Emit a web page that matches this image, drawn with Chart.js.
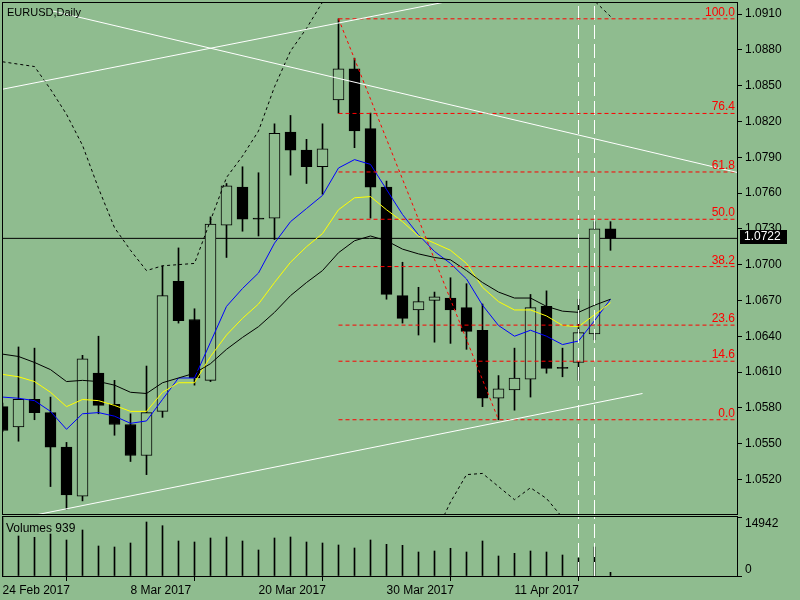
<!DOCTYPE html>
<html>
<head>
<meta charset="utf-8">
<title>EURUSD,Daily</title>
<script src="https://cdn.jsdelivr.net/npm/chart.js@4.4.1/dist/chart.umd.min.js"></script>
<style>
  html, body { margin: 0; padding: 0; background: #8fbc8f; }
  #wrap { position: relative; width: 800px; height: 600px; overflow: hidden; }
  #priceBox { position: absolute; left: 0; top: 0; width: 800px; height: 516px; }
  #volBox { position: absolute; left: 0; top: 514px; width: 800px; height: 86px; }
</style>
</head>
<body>
<div id="wrap">
  <div id="priceBox"><canvas id="priceChart" width="800" height="516"></canvas></div>
  <div id="volBox"><canvas id="volChart" width="800" height="86"></canvas></div>
</div>
<script>
const BG = '#8fbc8f';
const FONT = '"Liberation Sans", Arial, sans-serif';

// Daily bars, 24 Feb 2017 .. 19 Apr 2017
const dates = ['24 Feb 2017', '27 Feb 2017', '28 Feb 2017', '1 Mar 2017', '2 Mar 2017', '3 Mar 2017',
  '6 Mar 2017', '7 Mar 2017', '8 Mar 2017', '9 Mar 2017', '10 Mar 2017', '13 Mar 2017', '14 Mar 2017',
  '15 Mar 2017', '16 Mar 2017', '17 Mar 2017', '20 Mar 2017', '21 Mar 2017', '22 Mar 2017', '23 Mar 2017',
  '24 Mar 2017', '27 Mar 2017', '28 Mar 2017', '29 Mar 2017', '30 Mar 2017', '31 Mar 2017', '3 Apr 2017',
  '4 Apr 2017', '5 Apr 2017', '6 Apr 2017', '7 Apr 2017', '10 Apr 2017', '11 Apr 2017', '12 Apr 2017',
  '13 Apr 2017', '14 Apr 2017', '17 Apr 2017', '18 Apr 2017', '19 Apr 2017'];

const openP = [1.0581, 1.0564, 1.0587, 1.0576, 1.0547, 1.0506, 1.0609, 1.0583, 1.0566, 1.0540,
  1.0577, 1.0686, 1.0654, 1.0603, 1.0733, 1.0765, 1.0739, 1.0739, 1.0811, 1.0796,
  1.0782, 1.0838, 1.0864, 1.0814, 1.0765, 1.0674, 1.0662, 1.0670, 1.0672, 1.0664,
  1.0645, 1.0588, 1.0595, 1.0604, 1.0665, 1.0614, 1.0618, 1.0642, 1.0730];
const highP = [1.0584, 1.0631, 1.0630, 1.0589, 1.0551, 1.0624, 1.0640, 1.0603, 1.0575, 1.0615,
  1.0699, 1.0714, 1.0663, 1.0740, 1.0768, 1.0782, 1.0777, 1.0818, 1.0825, 1.0805,
  1.0818, 1.0906, 1.0873, 1.0827, 1.0770, 1.0702, 1.0681, 1.0677, 1.0689, 1.0684,
  1.0667, 1.0607, 1.0630, 1.0675, 1.0678, 1.0630, 1.0671, 1.0736, 1.0736];
const lowP = [1.0560, 1.0552, 1.0570, 1.0514, 1.0495, 1.0502, 1.0575, 1.0557, 1.0535, 1.0524,
  1.0572, 1.0651, 1.0599, 1.0602, 1.0706, 1.0728, 1.0724, 1.0721, 1.0775, 1.0768,
  1.0759, 1.0827, 1.0798, 1.0739, 1.0671, 1.0651, 1.0641, 1.0635, 1.0634, 1.0629,
  1.0581, 1.0570, 1.0578, 1.0589, 1.0609, 1.0606, 1.0603, 1.0637, 1.0712];
const closeP = [1.0561, 1.0587, 1.0576, 1.0547, 1.0507, 1.0621, 1.0582, 1.0566, 1.0540, 1.0576,
  1.0674, 1.0653, 1.0605, 1.0734, 1.0766, 1.0738, 1.0738, 1.0810, 1.0796, 1.0782,
  1.0797, 1.0864, 1.0812, 1.0765, 1.0675, 1.0655, 1.0669, 1.0673, 1.0662, 1.0644,
  1.0588, 1.0596, 1.0605, 1.0664, 1.0613, 1.0613, 1.0643, 1.0730, 1.0722];

// moving averages (fast blue, middle yellow, slow black)
const maBlue = [1.0589, 1.0588, 1.0586, 1.0577, 1.0562, 1.0575, 1.0576, 1.0573, 1.0567, 1.0569,
  1.0587, 1.0605, 1.0605, 1.0635, 1.0665, 1.0680, 1.0693, 1.0718, 1.0736, 1.0747,
  1.0758, 1.0781, 1.0788, 1.0784, 1.0763, 1.0742, 1.0725, 1.0711, 1.0701, 1.0688,
  1.0666, 1.0649, 1.0640, 1.0645, 1.0640, 1.0633, 1.0636, 1.0653, 1.0671];
const maYellow = [1.0608, 1.0606, 1.0602, 1.0593, 1.0581, 1.0587, 1.0586, 1.0582, 1.0577, 1.0577,
  1.0593, 1.0601, 1.0601, 1.0623, 1.0641, 1.0655, 1.0667, 1.0685, 1.0702, 1.0715,
  1.0726, 1.0746, 1.0756, 1.0757, 1.0746, 1.0736, 1.0724, 1.0718, 1.0712, 1.0701,
  1.0681, 1.0669, 1.0662, 1.0662, 1.0657, 1.0649, 1.0648, 1.0658, 1.0668];
const maBlack = [1.0625, 1.0623, 1.0618, 1.0612, 1.0602, 1.0603, 1.0602, 1.0599, 1.0593, 1.0592,
  1.0601, 1.0605, 1.0609, 1.0617, 1.0629, 1.0639, 1.0648, 1.0660, 1.0674, 1.0685,
  1.0695, 1.0710, 1.0720, 1.0724, 1.0720, 1.0713, 1.0709, 1.0706, 1.0704, 1.0695,
  1.0685, 1.0677, 1.0672, 1.0672, 1.0665, 1.0661, 1.0660, 1.0666, 1.0671];

// band lines (dotted black), partly outside the visible range
const bandUpper = [1.0870, 1.0868, 1.0866, 1.0847, 1.0826, 1.0800, 1.0764, 1.0731, 1.0712, 1.0695,
  1.0699, 1.0700, 1.0701, 1.0737, 1.0773, 1.0791, 1.0812, 1.0849, 1.0879, 1.0898,
  1.0920, 1.0943, 1.0959, 1.0968, 1.0972, 1.0974, 1.0972, 1.0968, 1.0964, 1.0959,
  1.0955, 1.0951, 1.0947, 1.0945, 1.0942, 1.0940, 1.0934, 1.0921, 1.0908];
const bandLower = [1.0385, 1.0385, 1.0381, 1.0377, 1.0369, 1.0377, 1.0394, 1.0411, 1.0419, 1.0427,
  1.0432, 1.0432, 1.0432, 1.0419, 1.0402, 1.0394, 1.0385, 1.0377, 1.0369, 1.0365,
  1.0360, 1.0360, 1.0369, 1.0385, 1.0411, 1.0427, 1.0444, 1.0473, 1.0501, 1.0524,
  1.0525, 1.0514, 1.0503, 1.0513, 1.0504, 1.0488, 1.0473, 1.0465, 1.0452];

const volumes = [14942, 10252, 9919, 10765, 9227, 11790, 7689, 7433, 8458, 13840,
  12892, 8971, 8714, 9739, 9996, 8971, 6664, 9739, 9996, 8714,
  8458, 7945, 7176, 9227, 8125, 7868, 6151, 6408, 7100, 6151,
  8971, 5126, 5818, 6408, 6151, 5382, 4613, 7433, 939];

const priceTicks = [1.0520, 1.0550, 1.0580, 1.0610, 1.0640, 1.0670, 1.0700,
  1.0730, 1.0760, 1.0790, 1.0820, 1.0850, 1.0880, 1.0910];
const dateTicks = [0, 8, 16, 24, 32];
const volumeTicks = [0, 14942];

// Fibonacci retracement from the 27 Mar high to the 10 Apr low
const fibLevels = [0, 14.6, 23.6, 38.2, 50, 61.8, 76.4, 100];
const fibFrom = 21;
const fibTo = 31;

// hand drawn trend lines: [bar index, price]
const trendUp = [[0, 1.0847], [28, 1.0921]];
const trendLow = [[2, 1.0490], [40, 1.0592]];
const trendDown = [[3.16, 1.09125], [46, 1.0777]];
const vLines = [36, 37];

const lastPrice = closeP[closeP.length - 1];
const X_MIN = -0.03125, X_MAX = 45.90625;
const Y_MIN = 1.04910, Y_MAX = 1.09201;
const VOL_MAX = 15378;

const fibPrice = l => lowP[fibTo] + (highP[fibFrom] - lowP[fibTo]) * l / 100;
const pts = arr => arr.map((v, i) => ({ x: i, y: v }));
const seg = arr => arr.map(p => ({ x: p[0], y: p[1] }));
const lineDs = (data, color, extra) => Object.assign({
  type: 'line', data, borderColor: color, borderWidth: 1, pointRadius: 0,
  fill: false, tension: 0, order: 0
}, extra || {});

const bull = closeP.map((c, i) => c > openP[i]);

// plain black frame round the plot area
const frame = {
  id: 'frame',
  afterDraw(chart) {
    const { ctx, chartArea: a } = chart;
    ctx.save();
    ctx.strokeStyle = '#000';
    ctx.lineWidth = 1;
    ctx.strokeRect(a.left + 0.5, a.top + 0.5, a.right - a.left, a.bottom - a.top);
    ctx.restore();
  }
};

const priceExtras = {
  id: 'priceExtras',
  afterDraw(chart) {
    const { ctx, chartArea: a, scales: { y } } = chart;
    ctx.save();
    ctx.fillStyle = '#000';
    ctx.font = '11px ' + FONT;
    ctx.textBaseline = 'alphabetic';
    ctx.fillText('EURUSD,Daily', 7, 16);

    ctx.font = '12px ' + FONT;
    ctx.fillStyle = '#ff0000';
    ctx.textAlign = 'right';
    fibLevels.forEach(l => {
      const py = y.getPixelForValue(fibPrice(l));
      ctx.fillText(l.toFixed(1), a.right - 2, py - 3);
    });

    // last price tag on the axis
    const ly = y.getPixelForValue(lastPrice);
    ctx.fillStyle = '#000';
    ctx.fillRect(740, Math.round(ly) - 8, 47, 14);
    ctx.fillStyle = '#fff';
    ctx.textAlign = 'left';
    ctx.textBaseline = 'middle';
    ctx.fillText(lastPrice.toFixed(4), 744, Math.round(ly) - 1);
    ctx.restore();
  }
};

const volExtras = {
  id: 'volExtras',
  afterDraw(chart) {
    const { ctx } = chart;
    ctx.save();
    ctx.fillStyle = '#000';
    ctx.font = '12px ' + FONT;
    ctx.textBaseline = 'alphabetic';
    ctx.fillText('Volumes ' + volumes[volumes.length - 1], 6, 18);
    ctx.restore();
  }
};

const priceDatasets = [
  // wicks
  {
    type: 'bar', data: lowP.map((l, i) => ({ x: i, y: [l, highP[i]] })),
    backgroundColor: '#000', borderWidth: 0, barThickness: 1, grouped: false, order: 4
  },
  // bodies
  {
    type: 'bar', data: openP.map((o, i) => ({ x: i, y: [o, closeP[i]] })),
    backgroundColor: bull.map(b => b ? BG : '#000'), borderColor: '#000', borderWidth: 1,
    borderSkipped: false, barThickness: 11, grouped: false, order: 3
  },
  lineDs(seg([[X_MIN, lastPrice], [X_MAX, lastPrice]]), '#000', { order: 5 }),
  lineDs(pts(bandUpper), '#000', { borderDash: [3, 3], order: 2 }),
  lineDs(pts(bandLower), '#000', { borderDash: [3, 3], order: 2 }),
  lineDs(pts(maBlack), '#000', { order: 1 }),
  lineDs(pts(maYellow), '#ffff00', { order: 1 }),
  lineDs(pts(maBlue), '#0000ff', { order: 1 }),
  lineDs(seg(trendUp), '#fff'),
  lineDs(seg(trendLow), '#fff'),
  lineDs(seg(trendDown), '#fff'),
  lineDs([{ x: fibFrom, y: highP[fibFrom] }, { x: fibTo, y: lowP[fibTo] }], '#ff0000', { borderDash: [3, 3] })
];
fibLevels.forEach(l => {
  priceDatasets.push(lineDs([{ x: fibFrom, y: fibPrice(l) }, { x: X_MAX, y: fibPrice(l) }], '#ff0000', { borderDash: [4, 3] }));
});
vLines.forEach(v => {
  priceDatasets.push(lineDs([{ x: v, y: Y_MIN }, { x: v, y: Y_MAX }], '#fff', { borderDash: [14, 5] }));
});

new Chart(document.getElementById('priceChart'), {
  type: 'bar',
  data: { datasets: priceDatasets },
  options: {
    responsive: false,
    animation: false,
    layout: { padding: { left: 2, top: 2, right: 0, bottom: 2 } },
    plugins: { legend: { display: false }, tooltip: { enabled: false } },
    scales: {
      x: { type: 'linear', min: X_MIN, max: X_MAX, display: false, offset: false },
      y: {
        position: 'right', min: Y_MIN, max: Y_MAX,
        afterFit: s => { s.width = 63; s.paddingTop = 0; s.paddingBottom = 0; },
        afterBuildTicks: s => { s.ticks = priceTicks.map(v => ({ value: v })); },
        ticks: { callback: v => v.toFixed(4), color: '#000', font: { family: FONT, size: 12 }, padding: 3 },
        grid: { drawOnChartArea: false, drawTicks: true, tickLength: 5, color: '#000' },
        border: { display: false }
      }
    }
  },
  plugins: [frame, priceExtras]
});

const volDatasets = [
  {
    type: 'bar', data: volumes.map((v, i) => ({ x: i, y: v })),
    backgroundColor: '#000', borderWidth: 0, barThickness: 1, grouped: false, order: 2
  }
];
vLines.forEach(v => {
  volDatasets.push(lineDs([{ x: v, y: 0 }, { x: v, y: VOL_MAX }], '#fff', { borderDash: [14, 5] }));
});

new Chart(document.getElementById('volChart'), {
  type: 'bar',
  data: { datasets: volDatasets },
  options: {
    responsive: false,
    animation: false,
    layout: { padding: { left: 2, top: 2, right: 0, bottom: 0 } },
    plugins: { legend: { display: false }, tooltip: { enabled: false } },
    scales: {
      x: {
        type: 'linear', min: X_MIN, max: X_MAX, offset: false, position: 'bottom',
        afterFit: s => { s.height = 24; s.paddingLeft = 0; s.paddingRight = 0; },
        afterBuildTicks: s => { s.ticks = dateTicks.map(v => ({ value: v })); },
        ticks: {
          callback: v => dates[v], align: 'start', maxRotation: 0, autoSkip: false,
          padding: 2, color: '#000', font: { family: FONT, size: 12 }
        },
        grid: { drawOnChartArea: false, drawTicks: true, tickLength: 5, color: '#000' },
        border: { display: false }
      },
      y: {
        position: 'right', min: 0, max: VOL_MAX,
        afterFit: s => { s.width = 63; s.paddingTop = 0; s.paddingBottom = 0; },
        afterBuildTicks: s => { s.ticks = volumeTicks.map(v => ({ value: v })); },
        ticks: {
          callback: v => v === 0 ? ['0', ''] : ['', String(v)],
          color: '#000', font: { family: FONT, size: 12, lineHeight: 1 }, padding: 3
        },
        grid: { drawOnChartArea: false, drawTicks: true, tickLength: 5, color: '#000' },
        border: { display: false }
      }
    }
  },
  plugins: [frame, volExtras]
});
</script>
</body>
</html>
